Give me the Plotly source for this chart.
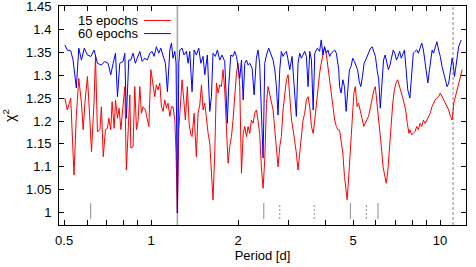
import math
import plotly.graph_objects as go

# ---- data ----
red_period = [0.503,0.513,0.527,0.541,0.551,0.562,0.574,0.582,0.590,0.602,0.614,0.622,0.635,0.642,0.652,0.665,0.673,0.683,0.695,0.706,
              0.714,0.725,0.733,0.745,0.753,0.765,0.775,0.786,0.800,0.811,0.821,0.833,0.844,0.851,0.866,0.878,0.890,0.902,0.914,0.926,
              0.938,0.956,0.971,0.982,0.998,1.016,1.030,1.043,1.057,1.072,1.086,1.100,1.115,1.130,1.145,1.161,1.176,1.191,1.208,1.220,
              1.233,1.247,1.267,1.280,1.300,1.314,1.335,1.354,1.372,1.386,1.409,1.434,1.454,1.474,1.494,1.513,1.534,1.554,1.575,1.596,
              1.617,1.638,1.661,1.683,1.706,1.728,1.751,1.774,1.798,1.822,1.847,1.871,1.897,1.921,1.948,1.974,2.000,2.027,2.055,2.083,
              2.110,2.139,2.167,2.196,2.224,2.254,2.285,2.314,2.344,2.375,2.408,2.441,2.474,2.508,2.540,2.570,2.609,2.644,2.680,2.715,
              2.750,2.788,2.824,2.862,2.901,2.940,2.980,3.020,3.063,3.101,3.142,3.182,3.225,3.269,3.312,3.357,3.402,3.447,3.494,3.541,
              3.589,3.638,3.686,3.735,3.783,3.830,3.880,3.932,3.984,4.037,4.093,4.149,4.204,4.258,4.320,4.377,4.432,4.490,4.546,4.609,
              4.670,4.732,4.770,4.822,4.900,4.953,5.034,5.089,5.168,5.224,5.306,5.363,5.447,5.506,5.594,5.656,5.748,5.810,5.905,5.970,
              6.019,6.105,6.185,6.266,6.350,6.433,6.516,6.602,6.688,6.771,6.861,6.952,7.040,7.132,7.225,7.316,7.412,7.509,7.604,7.703,
              7.804,7.866,7.977,8.082,8.192,8.306,8.415,8.530,8.647,8.760,8.880,9.002,9.123,9.246,9.376,9.494,9.624,9.756,9.888,10.02,
              10.16,10.29,10.43,10.58,10.72,10.86,11.01,11.16,11.31,11.46,11.60,11.77,11.93]
red_chi2 = [1.250,1.224,1.250,1.082,1.210,1.293,1.239,1.181,1.239,1.297,1.202,1.133,1.246,1.341,1.177,1.181,1.231,1.122,1.181,1.184,
            1.206,1.181,1.242,1.184,1.246,1.206,1.228,1.181,1.235,1.275,1.093,1.188,1.257,1.141,1.144,1.275,1.181,1.202,1.275,1.217,
            1.231,1.224,1.199,1.188,1.312,1.275,1.253,1.279,1.268,1.283,1.231,1.221,1.246,1.228,1.239,1.210,1.231,1.231,1.202,1.130,
            0.999,1.181,1.239,1.290,1.239,1.202,1.275,1.195,1.170,1.166,1.217,1.122,1.217,1.235,1.279,1.224,1.239,1.202,1.173,1.152,
            1.086,1.028,1.130,1.283,1.261,1.279,1.275,1.312,1.268,1.181,1.108,1.144,1.166,1.202,1.246,1.304,1.326,1.275,1.086,1.173,
            1.188,1.166,1.188,1.173,1.202,1.195,1.217,1.224,1.202,1.173,1.100,1.053,1.115,1.239,1.275,1.260,1.246,1.224,1.181,1.130,
            1.100,1.144,1.166,1.224,1.261,1.290,1.301,1.246,1.202,1.181,1.159,1.130,1.093,1.130,1.181,1.202,1.217,1.246,1.253,1.231,
            1.188,1.173,1.202,1.239,1.275,1.304,1.326,1.348,1.362,1.348,1.319,1.290,1.261,1.231,1.202,1.188,1.181,1.180,1.159,1.130,
            1.079,1.035,1.028,1.071,1.144,1.202,1.261,1.275,1.231,1.239,1.217,1.210,1.188,1.195,1.202,1.210,1.231,1.246,1.268,1.275,
            1.253,1.224,1.195,1.144,1.100,1.079,1.064,1.093,1.144,1.202,1.239,1.268,1.283,1.290,1.279,1.268,1.253,1.239,1.224,1.195,
            1.173,1.181,1.170,1.173,1.177,1.188,1.181,1.195,1.188,1.202,1.195,1.202,1.210,1.217,1.231,1.239,1.246,1.250,1.253,1.261,
            1.253,1.246,1.239,1.231,1.224,1.210,1.202,1.239,1.253,1.268,1.283,1.301,1.312]

blue_period = [0.503,0.513,0.527,0.537,0.551,0.562,0.574,0.587,0.602,0.619,0.635,0.652,0.673,0.691,0.710,0.725,0.739,0.753,0.765,0.779,
               0.800,0.811,0.821,0.837,0.851,0.866,0.882,0.897,0.914,0.931,0.951,0.971,0.990,1.008,1.024,1.043,1.063,1.080,1.100,1.121,
               1.139,1.161,1.176,1.191,1.208,1.220,1.233,1.247,1.257,1.280,1.300,1.325,1.343,1.361,1.386,1.409,1.434,1.462,1.486,1.513,
               1.534,1.566,1.596,1.617,1.638,1.669,1.696,1.728,1.760,1.798,1.836,1.856,1.887,1.921,1.948,1.974,2.000,2.027,2.055,2.083,
               2.110,2.139,2.167,2.196,2.237,2.273,2.314,2.344,2.375,2.408,2.441,2.474,2.508,2.553,2.596,2.644,2.680,2.715,2.750,2.788,
               2.824,2.862,2.901,2.940,2.980,3.020,3.075,3.142,3.182,3.225,3.269,3.312,3.357,3.402,3.447,3.494,3.541,3.589,3.638,3.686,
               3.762,3.830,3.880,3.932,3.984,4.037,4.093,4.149,4.204,4.320,4.377,4.461,4.490,4.546,4.609,4.670,4.732,4.793,4.857,4.921,
               4.986,5.052,5.117,5.184,5.253,5.319,5.390,5.461,5.530,5.603,5.677,5.749,5.825,5.902,5.976,6.055,6.135,6.212,6.294,6.377,
               6.457,6.543,6.628,6.710,6.799,6.888,6.974,7.066,7.159,7.248,7.343,7.440,7.533,7.632,7.732,7.866,7.977,8.082,8.192,8.306,
               8.415,8.530,8.647,8.760,8.880,9.002,9.074,9.195,9.295,9.393,9.494,9.624,9.756,9.888,10.02,10.16,10.29,10.43,10.58,10.72,
               10.86,11.01,11.10,11.22,11.31,11.46,11.60,11.77,11.85]
blue_chi2 = [1.366,1.355,1.353,1.333,1.272,1.359,1.333,1.359,1.344,1.341,1.355,1.326,1.322,1.330,1.326,1.301,1.326,1.348,1.253,1.326,
             1.330,1.348,1.206,1.333,1.333,1.348,1.326,1.337,1.352,1.330,1.337,1.333,1.348,1.352,1.341,1.362,1.348,1.359,1.341,1.326,
             1.264,1.355,1.370,1.337,1.352,1.326,0.999,1.326,1.355,1.359,1.344,1.352,1.326,1.352,1.264,1.355,1.344,1.359,1.326,1.341,
             1.301,1.344,1.221,1.253,1.348,1.341,1.355,1.333,1.344,1.330,1.195,1.275,1.344,1.341,1.352,1.341,1.319,1.293,1.333,1.246,
             1.326,1.333,1.322,1.326,1.315,1.257,1.337,1.355,1.326,1.231,1.119,1.326,1.344,1.359,1.344,1.333,1.312,1.275,1.213,1.312,
             1.352,1.341,1.348,1.352,1.333,1.312,1.341,1.261,1.210,1.326,1.348,1.337,1.344,1.352,1.341,1.275,1.352,1.333,1.224,1.348,
             1.359,1.352,1.377,1.344,1.362,1.348,1.355,1.341,1.348,1.355,1.348,1.312,1.275,1.261,1.290,1.275,1.221,1.275,1.312,1.319,
             1.337,1.330,1.319,1.312,1.286,1.275,1.297,1.326,1.333,1.341,1.348,1.359,1.362,1.348,1.341,1.312,1.290,1.228,1.290,1.333,
             1.344,1.330,1.312,1.322,1.337,1.355,1.348,1.333,1.341,1.352,1.337,1.348,1.355,1.312,1.268,1.250,1.297,1.348,1.352,1.355,
             1.348,1.362,1.370,1.355,1.326,1.290,1.283,1.312,1.341,1.355,1.348,1.362,1.373,1.355,1.341,1.319,1.304,1.286,1.275,1.283,
             1.312,1.337,1.326,1.297,1.312,1.341,1.362,1.373,1.377]

series_names = ["15 epochs", "60 epochs"]

# reference periods: full-height lines (solid, dashed)
true_period = [1.233]
alias_period = [11.1]
# short marks near chi2 = 1
mark_solid = [0.618, 2.455, 4.895, 6.10]
mark_dashed = [2.788, 3.67, 5.56]

x_ticks = [0.5,0.6,0.7,0.8,0.9,1,2,3,4,5,6,7,8,9,10]
x_labels = ["0.5","","","","","1","2","","","5","","","","","10"]
y_ticks = [1.0,1.05,1.1,1.15,1.2,1.25,1.3,1.35,1.4,1.45]
y_labels = ["1","1.05","1.1","1.15","1.2","1.25","1.3","1.35","1.4","1.45"]

X_MIN, X_MAX = 0.48, 12.3
Y_MIN, Y_MAX = 0.973, 1.451
MARK_LO, MARK_HI = 0.986, 1.021

FONT = "Liberation Sans, Arial, sans-serif"

def seg(xs, lo, hi):
    X, Y = [], []
    for p in xs:
        X += [p, p, None]
        Y += [lo, hi, None]
    return X, Y

fig = go.Figure()

X, Y = seg(true_period, Y_MIN, Y_MAX)
fig.add_trace(go.Scatter(x=X, y=Y, mode="lines", line=dict(color="#a8a8a8", width=1.6),
                         showlegend=False, hoverinfo="skip"))
X, Y = seg(alias_period, Y_MIN, Y_MAX)
fig.add_trace(go.Scatter(x=X, y=Y, mode="lines", line=dict(color="#b4b4b4", width=1.6, dash="3px,2px"),
                         showlegend=False, hoverinfo="skip"))
X, Y = seg(mark_solid, MARK_LO, MARK_HI)
fig.add_trace(go.Scatter(x=X, y=Y, mode="lines", line=dict(color="#8c8c8c", width=1),
                         showlegend=False, hoverinfo="skip"))
X, Y = seg(mark_dashed, MARK_LO, MARK_HI)
fig.add_trace(go.Scatter(x=X, y=Y, mode="lines", line=dict(color="#8c8c8c", width=1, dash="2px,2px"),
                         showlegend=False, hoverinfo="skip"))

fig.add_trace(go.Scatter(x=red_period, y=red_chi2, mode="lines", name=series_names[0],
                         line=dict(color="#ff0000", width=1), showlegend=False))
fig.add_trace(go.Scatter(x=blue_period, y=blue_chi2, mode="lines", name=series_names[1],
                         line=dict(color="#0000ff", width=1), showlegend=False))

# gnuplot-style key: text right-aligned, sample line to the right
key_colors = ["#ff0000", "#0000ff"]
key_y = [0.934, 0.874]
for name, col, ky in zip(series_names, key_colors, key_y):
    fig.add_annotation(xref="paper", yref="paper", x=0.191, y=ky, text=name, showarrow=False,
                       xanchor="right", yanchor="middle", xshift=3,
                       font=dict(family=FONT, size=13, color="black"))
    fig.add_shape(type="line", xref="paper", yref="paper", x0=0.209, x1=0.275, y0=ky, y1=ky,
                  line=dict(color=col, width=1))

axis_common = dict(showline=True, linecolor="black", linewidth=1, mirror="ticks", ticks="inside",
                   ticklen=5, tickcolor="black", showgrid=False, zeroline=False, automargin=False,
                   ticklabeloverflow="allow",
                   tickfont=dict(family=FONT, size=13, color="black"))

fig.update_xaxes(type="log", range=[math.log10(X_MIN), math.log10(X_MAX)],
                 tickvals=x_ticks, ticktext=x_labels, ticklabelstandoff=3,
                 title=dict(text="Period [d]", font=dict(family=FONT, size=13, color="black"), standoff=2),
                 **axis_common)
fig.update_yaxes(range=[Y_MIN, Y_MAX], tickvals=y_ticks, ticktext=y_labels, ticklabelstandoff=4,
                 title=dict(text="χ<sup>2</sup>", font=dict(family=FONT, size=14, color="black"), standoff=14),
                 **axis_common)

fig.update_layout(width=476, height=267, margin=dict(l=59, r=10, t=6, b=42),
                  plot_bgcolor="white", paper_bgcolor="white", showlegend=False)

# remove the browser's default page margin so the figure sits at the window's top-left corner
fig.write_html("out.html", config={"displayModeBar": False},
               post_script="document.body.style.margin='0';")
